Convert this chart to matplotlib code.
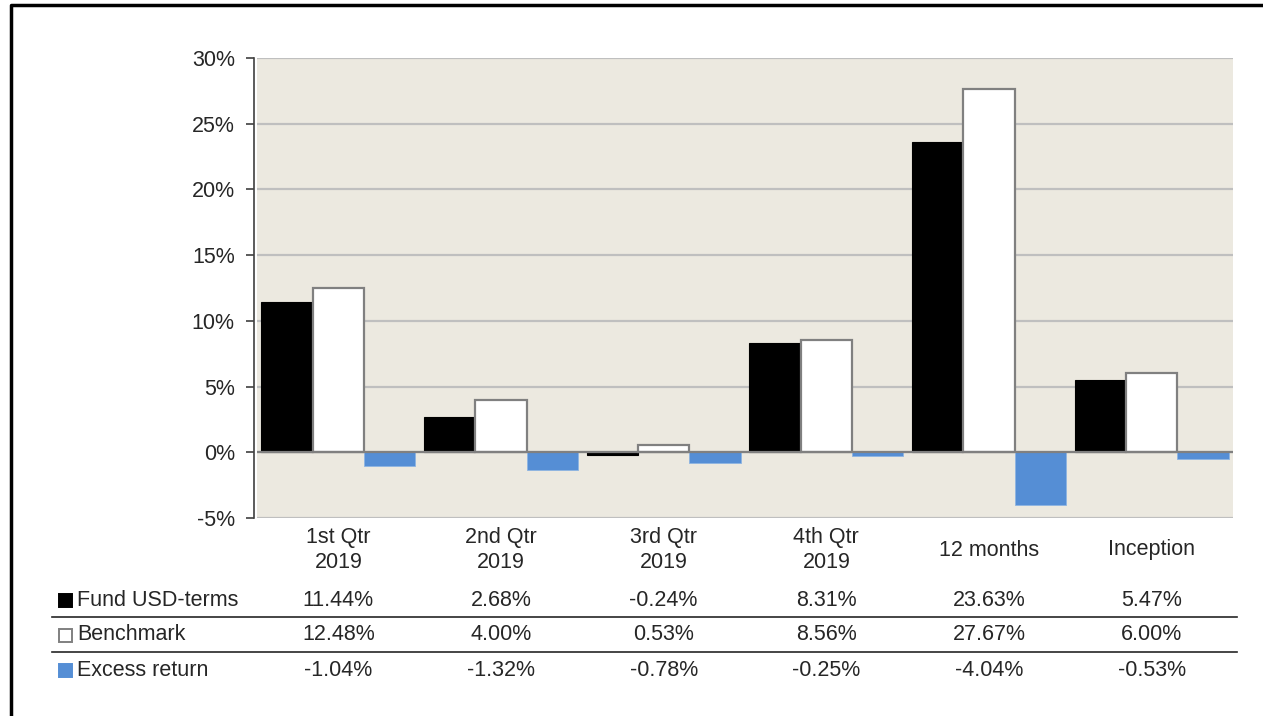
import matplotlib

matplotlib.use("Agg")
import matplotlib.pyplot as plt
import numpy as np
from matplotlib.lines import Line2D
from matplotlib.patches import Rectangle
from matplotlib.ticker import FuncFormatter
from matplotlib.transforms import blended_transform_factory

plt.rcParams["font.family"] = ["Liberation Sans", "DejaVu Sans"]

categories = ["1st Qtr\n2019", "2nd Qtr\n2019", "3rd Qtr\n2019", "4th Qtr\n2019",
              "12 months", "Inception"]
fund = [11.44, 2.68, -0.24, 8.31, 23.63, 5.47]
benchmark = [12.48, 4.00, 0.53, 8.56, 27.67, 6.00]
excess = [-1.04, -1.32, -0.78, -0.25, -4.04, -0.53]
series_names = ["Fund USD-terms", "Benchmark", "Excess return"]

BG = "#ECE9E0"
BLUE = "#558ED5"
TXT = "#262626"
FS = 15.5

fig = plt.figure(figsize=(12.63, 7.16), dpi=100)
ax = fig.add_axes([257 / 1263, 1 - 518 / 716, (1233 - 257) / 1263, (518 - 58) / 716])
ax.set_facecolor(BG)

x = np.arange(len(categories))
w = 0.315
ax.bar(x - w, fund, w, color="black", edgecolor="black", linewidth=0.8, zorder=3)
ax.bar(x, benchmark, w, color="white", edgecolor="#808080", linewidth=1.6, zorder=3)
ax.bar(x + w, excess, w, color=BLUE, edgecolor="#8DB4E2", linewidth=0.6, zorder=3)

ax.set_xlim(-0.5, len(categories) - 0.5)
ax.set_ylim(-5, 30)
ax.set_yticks(np.arange(-5, 31, 5))
ax.yaxis.set_major_formatter(FuncFormatter(lambda v, _: f"{v:.0f}%"))
ax.grid(axis="y", color="#BFBFBF", linewidth=1.6, zorder=1)
ax.axhline(0, color="#808080", linewidth=1.6, zorder=4)
ax.set_xticks([])
for s in ["top", "right", "bottom"]:
    ax.spines[s].set_visible(False)
ax.spines["left"].set_color("#404040")
ax.spines["left"].set_linewidth(1.2)
ax.spines["left"].set_position(("outward", 2))
ax.tick_params(axis="y", length=6, width=1.2, color="#404040",
               labelsize=FS, labelcolor=TXT, pad=8)

# category labels and the data table beneath the chart
trans = blended_transform_factory(ax.transData, fig.transFigure)
for i, cat in enumerate(categories):
    ax.text(i, 1 - 550 / 716, cat, transform=trans, ha="center", va="center",
            fontsize=FS, color=TXT, linespacing=1.25, clip_on=False)

row_y = [1 - 600 / 716, 1 - 635 / 716, 1 - 670 / 716]
rows = [fund, benchmark, excess]
for y, vals in zip(row_y, rows):
    for i, v in enumerate(vals):
        ax.text(i, y, f"{v:.2f}%", transform=trans, ha="center", va="center",
                fontsize=FS, color=TXT, clip_on=False)

marker_styles = [("black", "black"), ("white", "#808080"), (BLUE, BLUE)]
for y, name, (fc, ec) in zip(row_y, series_names, marker_styles):
    fig.patches.append(Rectangle((59 / 1263, y - 7 / 716), 13 / 1263, 13 / 716,
                                 facecolor=fc, edgecolor=ec, linewidth=1.4,
                                 transform=fig.transFigure))
    fig.text(77 / 1263, y, name, ha="left", va="center", fontsize=FS, color=TXT)

for y in [1 - 617 / 716, 1 - 652 / 716]:
    fig.add_artist(Line2D([52 / 1263, 1237 / 1263], [y, y], color="#262626",
                          linewidth=1.2, transform=fig.transFigure))

# outer frame (left and top edges)
fig.add_artist(Line2D([11 / 1263, 11 / 1263, 1.0], [0.0, 1 - 5 / 716, 1 - 5 / 716],
                      color="black", linewidth=2.5, transform=fig.transFigure))

fig.savefig("out.png", dpi=100)
